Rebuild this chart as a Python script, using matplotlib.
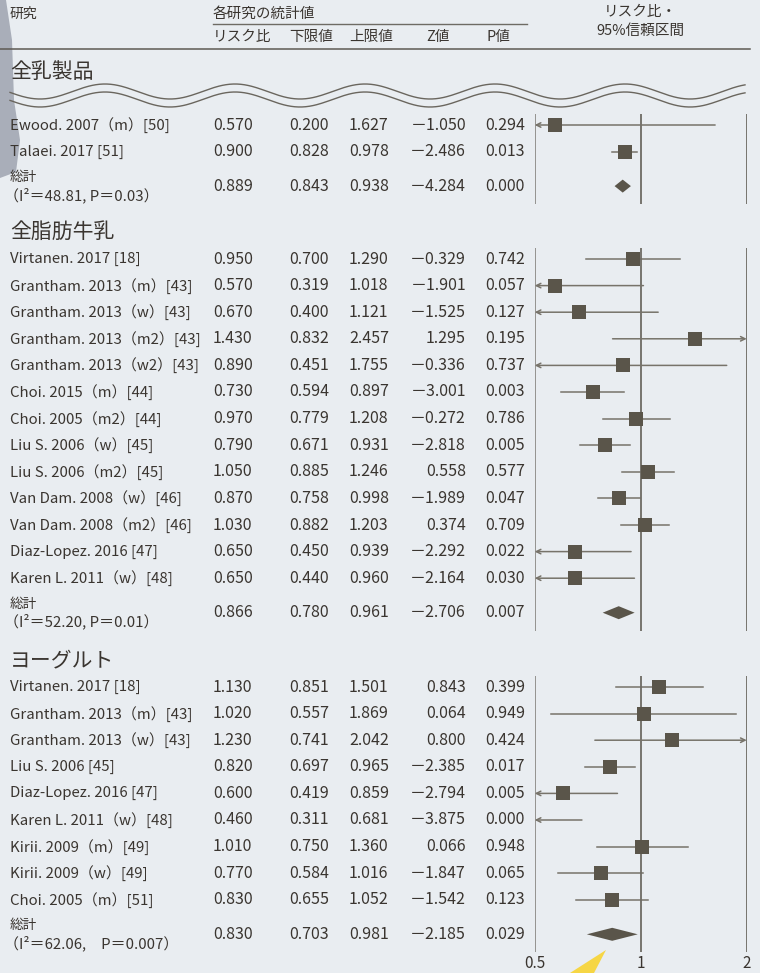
"""乳製品と2型糖尿病リスクのフォレストプロット."""
import numpy as np
from matplotlib import pyplot as plt
from matplotlib.patches import Polygon

plt.rcParams['font.family'] = ['Noto Sans CJK JP', 'DejaVu Sans']

BG = '#E9EDF1'
INK = '#3A3530'
MARK = '#5A554A'
LINE = '#77736A'

# 全乳製品
g1_names = ['Ewood. 2007（m）[50]', 'Talaei. 2017 [51]']
g1_rr = [0.570, 0.900]
g1_lo = [0.200, 0.828]
g1_hi = [1.627, 0.978]
g1_z = [-1.050, -2.486]
g1_p = [0.294, 0.013]
g1_total = [0.889, 0.843, 0.938, -4.284, 0.000]
g1_het = '（I²＝48.81, P＝0.03）'

# 全脂肪牛乳
g2_names = ['Virtanen. 2017 [18]', 'Grantham. 2013（m）[43]', 'Grantham. 2013（w）[43]',
            'Grantham. 2013（m2）[43]', 'Grantham. 2013（w2）[43]', 'Choi. 2015（m）[44]',
            'Choi. 2005（m2）[44]', 'Liu S. 2006（w）[45]', 'Liu S. 2006（m2）[45]',
            'Van Dam. 2008（w）[46]', 'Van Dam. 2008（m2）[46]', 'Diaz-Lopez. 2016 [47]',
            'Karen L. 2011（w）[48]']
g2_rr = [0.950, 0.570, 0.670, 1.430, 0.890, 0.730, 0.970, 0.790, 1.050, 0.870, 1.030, 0.650, 0.650]
g2_lo = [0.700, 0.319, 0.400, 0.832, 0.451, 0.594, 0.779, 0.671, 0.885, 0.758, 0.882, 0.450, 0.440]
g2_hi = [1.290, 1.018, 1.121, 2.457, 1.755, 0.897, 1.208, 0.931, 1.246, 0.998, 1.203, 0.939, 0.960]
g2_z = [-0.329, -1.901, -1.525, 1.295, -0.336, -3.001, -0.272, -2.818, 0.558, -1.989, 0.374,
        -2.292, -2.164]
g2_p = [0.742, 0.057, 0.127, 0.195, 0.737, 0.003, 0.786, 0.005, 0.577, 0.047, 0.709, 0.022, 0.030]
g2_total = [0.866, 0.780, 0.961, -2.706, 0.007]
g2_het = '（I²＝52.20, P＝0.01）'

# ヨーグルト
g3_names = ['Virtanen. 2017 [18]', 'Grantham. 2013（m）[43]', 'Grantham. 2013（w）[43]',
            'Liu S. 2006 [45]', 'Diaz-Lopez. 2016 [47]', 'Karen L. 2011（w）[48]',
            'Kirii. 2009（m）[49]', 'Kirii. 2009（w）[49]', 'Choi. 2005（m）[51]']
g3_rr = [1.130, 1.020, 1.230, 0.820, 0.600, 0.460, 1.010, 0.770, 0.830]
g3_lo = [0.851, 0.557, 0.741, 0.697, 0.419, 0.311, 0.750, 0.584, 0.655]
g3_hi = [1.501, 1.869, 2.042, 0.965, 0.859, 0.681, 1.360, 1.016, 1.052]
g3_z = [0.843, 0.064, 0.800, -2.385, -2.794, -3.875, 0.066, -1.847, -1.542]
g3_p = [0.399, 0.949, 0.424, 0.017, 0.005, 0.000, 0.948, 0.065, 0.123]
g3_total = [0.830, 0.703, 0.981, -2.185, 0.029]
g3_het = '（I²＝62.06,　P＝0.007）'

ticks = [0.5, 1, 2]
tick_labels = ['0.5', '1', '2']

XMIN, XMAX = 0.5, 2.0
ROW = 26.6
FS_NUM = 11.5
FS_LAB = 10.8


def fmt_z(v):
    s = f'{abs(v):.3f}'
    return ('－' + s) if v < 0 else s


def value_cells(ax, y, r, l, h, zz, pp):
    ax.text(213, y, f'{r:.3f}', fontsize=FS_NUM, color=INK, va='center')
    ax.text(289, y, f'{l:.3f}', fontsize=FS_NUM, color=INK, va='center')
    ax.text(349, y, f'{h:.3f}', fontsize=FS_NUM, color=INK, va='center')
    ax.text(466, y, fmt_z(zz), fontsize=FS_NUM, color=INK, va='center', ha='right')
    ax.text(485, y, f'{pp:.3f}', fontsize=FS_NUM, color=INK, va='center')


def draw_group(ax, fa, title, title_y, y0, names, rr, lo, hi, z, p, total, het):
    ax.text(10, title_y, title, fontsize=15, color=INK, va='center', ha='left')
    ys = [y0 + i * ROW for i in range(len(names))]
    for y, n, r, l, h, zz, pp in zip(ys, names, rr, lo, hi, z, p):
        ax.text(10, y, n, fontsize=FS_LAB, color=INK, va='center')
        value_cells(ax, y, r, l, h, zz, pp)
        # CI line, arrows when it leaves the axis range
        a, b = max(l, XMIN), min(h, XMAX)
        if l < XMIN:
            fa.annotate('', xy=(XMIN, y), xytext=(b, y),
                        arrowprops=dict(arrowstyle='->', color=LINE, lw=1.1,
                                        shrinkA=0, shrinkB=0, mutation_scale=8))
        elif h > XMAX:
            fa.annotate('', xy=(XMAX, y), xytext=(a, y),
                        arrowprops=dict(arrowstyle='->', color=LINE, lw=1.1,
                                        shrinkA=0, shrinkB=0, mutation_scale=8))
        else:
            fa.plot([a, b], [y, y], color=LINE, lw=1.1)
        if XMIN <= r <= XMAX:
            fa.plot([r], [y], marker='s', ms=10, color=MARK, mew=0, zorder=5)
    yt = ys[-1] + 34.5
    ax.text(10, yt - 9, '総計', fontsize=9.8, color=INK, va='center')
    ax.text(4, yt + 9, het, fontsize=FS_LAB, color=INK, va='center')
    r, l, h, zz, pp = total
    value_cells(ax, yt, r, l, h, zz, pp)
    fa.fill([l, r, h, r], [yt, yt - 6.5, yt, yt + 6.5], color=MARK, lw=0, zorder=5)
    fa.vlines(ticks, ys[0] - 11, yt + 18, colors=['#8E8C88', '#6E6B64', '#6E6B64'], lw=1.3)


fig = plt.figure(figsize=(7.6, 9.73), dpi=100, facecolor=BG)
ax = fig.add_axes([0, 0, 1, 1])
ax.set_xlim(0, 760)
ax.set_ylim(973, 0)
ax.axis('off')

fa = fig.add_axes([534.7 / 760, 0, 212 / 760, 1])
fa.set_xscale('log', base=2)
fa.set_xlim(XMIN, XMAX)
fa.set_ylim(973, 0)
fa.axis('off')

# decorations
ax.add_patch(Polygon([(0, 0), (6, 0), (12, 40), (14, 100), (20, 140), (16, 172), (0, 178)],
                     closed=True, color='#A9AEB9', lw=0, zorder=0))
ax.add_patch(Polygon([(570, 973), (606, 950), (594, 973)], closed=True,
                     color='#F6D645', lw=0, zorder=0))

# header
ax.text(10, 14, '研究', fontsize=10, color=INK, va='center')
ax.text(213, 14, '各研究の統計値', fontsize=10.5, color=INK, va='center')
ax.plot([213, 527], [24, 24], color='#6E6B64', lw=1)
for x, s in zip([213, 289, 349, 426, 486], ['リスク比', '下限値', '上限値', 'Z値', 'P値']):
    ax.text(x, 37, s, fontsize=10.5, color=INK, va='center')
ax.text(640, 12, 'リスク比・', fontsize=10.5, color=INK, va='center', ha='center')
ax.text(640, 31, '95%信頼区間', fontsize=10.5, color=INK, va='center', ha='center')
ax.plot([0, 750], [49, 49], color='#5E5A54', lw=1.1)

# wavy break lines
wx = np.linspace(10, 745, 600)
for c in (91.5, 99.5):
    ax.plot(wx, c + 7.5 * np.cos(2 * np.pi * (wx - 40) / 130), color='#6A665E', lw=1)

draw_group(ax, fa, '全乳製品', 72, 125, g1_names, g1_rr, g1_lo, g1_hi, g1_z, g1_p,
           g1_total, g1_het)
draw_group(ax, fa, '全脂肪牛乳', 232, 259, g2_names, g2_rr, g2_lo, g2_hi, g2_z, g2_p,
           g2_total, g2_het)
draw_group(ax, fa, 'ヨーグルト', 660, 687, g3_names, g3_rr, g3_lo, g3_hi, g3_z, g3_p,
           g3_total, g3_het)

for t, s in zip(ticks, tick_labels):
    fa.text(t, 964, s, fontsize=11, color=INK, va='center', ha='center')

fig.savefig('out.png', dpi=100, facecolor=BG)
